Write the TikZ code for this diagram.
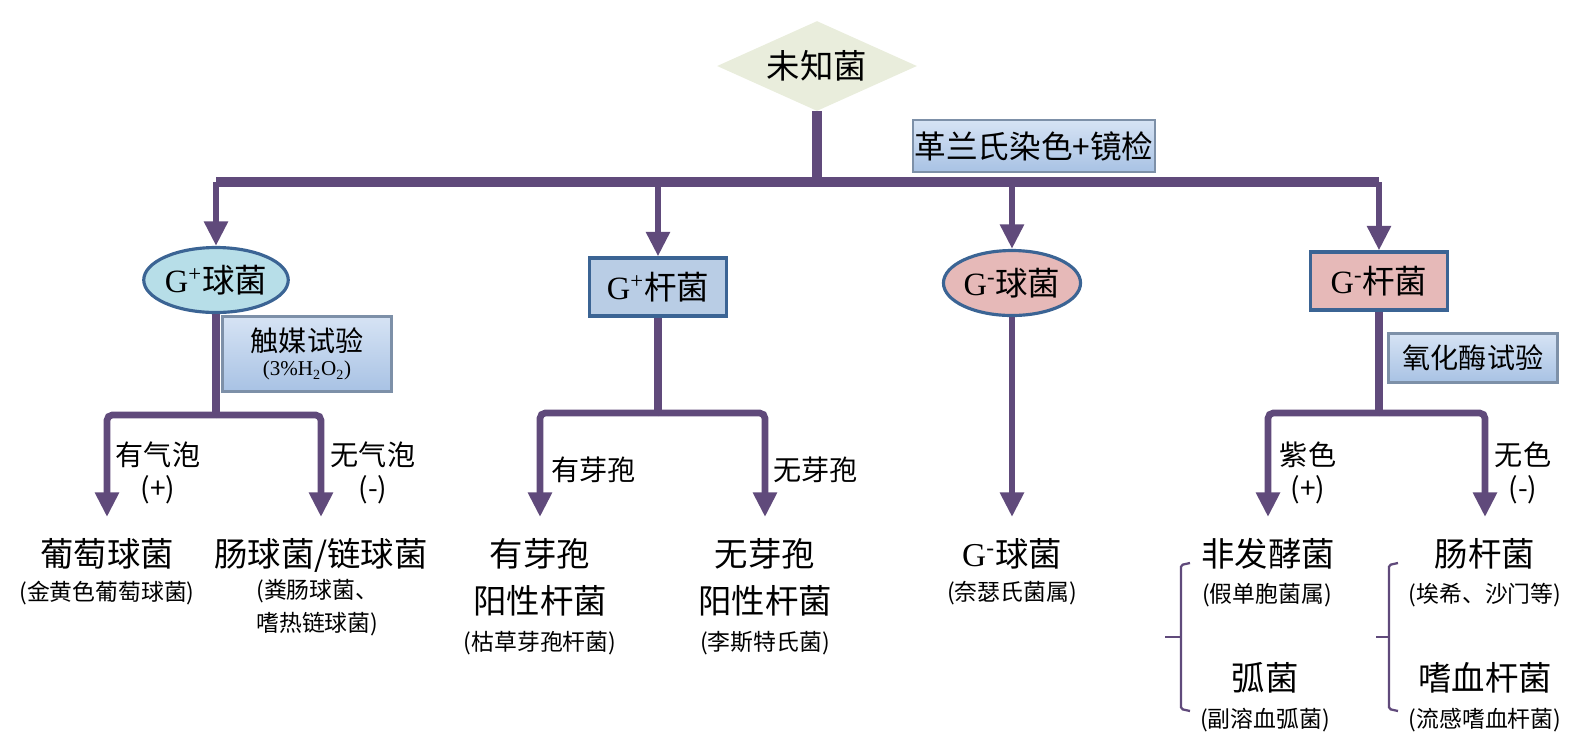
\documentclass[tikz,border=0pt]{standalone}
\usepackage{fontspec}
\setmainfont{Noto Sans CJK SC}
\newfontfamily\gfont{Liberation Serif}
\usepackage{tikz}
\usetikzlibrary{arrows.meta,shapes.geometric,positioning}

\definecolor{arrowpurple}{HTML}{604A7B}
\definecolor{startgreen}{HTML}{E9EDDC}
\definecolor{gpblue}{HTML}{B7DEE8}
\definecolor{rodblue}{HTML}{B9CDE5}
\definecolor{gnpink}{HTML}{E6B9B8}
\definecolor{edgeblue}{HTML}{3B6494}
\definecolor{testtop}{HTML}{D6E3F4}
\definecolor{testbottom}{HTML}{A8C2E4}
\definecolor{testedge}{HTML}{7D90A8}

\newcommand{\bigtext}{\fontsize{19pt}{27pt}\selectfont}
\newcommand{\midtext}{\fontsize{16pt}{19pt}\selectfont}
\newcommand{\smalltext}{\fontsize{13pt}{19pt}\selectfont}

\tikzset{
  start/.style={diamond, aspect=2.2, fill=startgreen, inner sep=0pt,
    minimum width=4cm, minimum height=1.8cm, font=\bigtext},
  coccus/.style={ellipse, draw=edgeblue, line width=1.8pt, inner sep=0pt,
    minimum width=2.72cm, minimum height=1.3cm, font=\fontsize{18.5pt}{22pt}\selectfont},
  rod/.style={rectangle, draw=edgeblue, line width=1.8pt, inner sep=0pt,
    minimum width=2.74cm, minimum height=1.16cm, font=\fontsize{18.5pt}{22pt}\selectfont},
  test/.style={rectangle, top color=testtop, bottom color=testbottom, draw=testedge,
    line width=1.4pt, inner sep=0pt, align=center},
  leaf/.style={font=\bigtext, align=center, inner xsep=0pt, inner ysep=12pt},
  note/.style={font=\smalltext, align=center, inner sep=0pt},
  label/.style={font=\midtext, align=center, inner sep=0pt},
  trunk/.style={draw=arrowpurple, line width=5.5pt},
  stem/.style={draw=arrowpurple, line width=4.2pt},
  flow/.style={draw=arrowpurple, line width=3.8pt, rounded corners=3pt,
    -{Triangle[length=14pt,width=13pt]}},
  bracket/.style={draw=arrowpurple, line width=1.3pt, rounded corners=1pt}
}

\begin{document}
\begin{tikzpicture}[x=0.02cm,y=-0.02cm]
  \useasboundingbox (0,0) rectangle (1596,752);

  % root and Gram stain
  \node[start] (unknown) at (817,66) {未知菌};
  \node[test, minimum width=4.84cm, minimum height=1.04cm, font=\fontsize{18pt}{20pt}\selectfont]
    (gram) at (1034,146) {革兰氏染色+镜检};

  \node[coccus, fill=gpblue] (gpc) at (216,280) {{\gfont G\textsuperscript{+}}球菌};
  \node[rod, fill=rodblue]   (gpr) at (658,287) {{\gfont G\textsuperscript{+}}杆菌};
  \node[coccus, fill=gnpink] (gnc) at (1012,283) {{\gfont G\textsuperscript{-}}球菌};
  \node[rod, fill=gnpink]    (gnr) at (1379,281) {{\gfont G\textsuperscript{-}}杆菌};

  \coordinate (split) at (817,182);
  \draw[trunk] (unknown) -- (split);
  \draw[trunk] (split -| gpc) -- (split -| gnr);
  \foreach \n in {gpc,gpr,gnc,gnr}
    \draw[flow] (split -| \n) -- (\n);

  % G+ cocci
  \node[test, minimum width=3.38cm, minimum height=1.5cm, font=\fontsize{16pt}{16pt}\selectfont]
    (catalase) at (307,354) {触媒试验\\[-2pt]{\gfont\fontsize{12pt}{14pt}\selectfont (3\%H\textsubscript{2}O\textsubscript{2})}};
  \node[leaf, anchor=north] (staph)  at (107,517) {葡萄球菌};
  \node[leaf, anchor=north] (entero) at (321,517) {肠球菌/链球菌};
  \node[note] (staphnote) at (107,593) {(金黄色葡萄球菌)};
  \node[note, align=left, anchor=north west] (enteronote) at (256,579) {(粪肠球菌、\\嗜热链球菌)};
  \node[label] (bubble)   at (158,473) {有气泡\\(+)};
  \node[label] (nobubble) at (373,473) {无气泡\\(-)};

  \coordinate (gpcsplit) at (216,415);
  \draw[stem] (gpc) -- (gpcsplit);
  \draw[flow] (gpcsplit) -| (staph);
  \draw[flow] (gpcsplit) -| (entero);

  % G+ rods
  \node[leaf, anchor=north] (bacillus) at (540,517) {有芽孢\\阳性杆菌};
  \node[leaf, anchor=north] (listeria) at (765,517) {无芽孢\\阳性杆菌};
  \node[note] (bacillusnote) at (540,643) {(枯草芽孢杆菌)};
  \node[note] (listerianote) at (765,643) {(李斯特氏菌)};
  \node[label, anchor=west] (spore)   at (551,470) {有芽孢};
  \node[label, anchor=west] (nospore) at (773,470) {无芽孢};

  \coordinate (gprsplit) at (658,413);
  \draw[stem] (gpr) -- (gprsplit);
  \draw[flow] (gprsplit) -| (bacillus);
  \draw[flow] (gprsplit) -| (listeria);

  % G- cocci
  \node[leaf, anchor=north] (neis) at (1012,517) {{\gfont G\textsuperscript{-}}球菌};
  \node[note] (neisnote) at (1012,593) {(奈瑟氏菌属)};
  \draw[flow] (gnc) -- (neis);

  % G- rods
  \node[test, minimum width=3.38cm, minimum height=0.98cm, font=\fontsize{16pt}{16pt}\selectfont]
    (oxidase) at (1473,358) {氧化酶试验};
  \node[leaf, anchor=north] (nonferm) at (1268,517) {非发酵菌};
  \node[leaf, anchor=north] (entbac)  at (1485,517) {肠杆菌};
  \node[note] (nonfermnote) at (1267,595) {(假单胞菌属)};
  \node[note] (entbacnote)  at (1485,595) {(埃希、沙门等)};
  \node[leaf] (vibrio) at (1265,678) {弧菌};
  \node[leaf] (haemo)  at (1485,678) {嗜血杆菌};
  \node[note] (vibrionote) at (1265,720) {(副溶血弧菌)};
  \node[note] (haemonote)  at (1485,720) {(流感嗜血杆菌)};
  \node[label] (purple)    at (1308,473) {紫色\\(+)};
  \node[label] (colorless) at (1523,473) {无色\\(-)};

  \coordinate (gnrsplit) at (1379,413);
  \draw[stem] (gnr) -- (gnrsplit);
  \draw[flow] (gnrsplit) -| (nonferm);
  \draw[flow] (gnrsplit) -| (entbac);

  % brackets
  \draw[bracket] (1190,563) -- (1181,565) -- (1181,709) -- (1190,711);
  \draw[bracket] (1181,637) -- (1165,637);
  \draw[bracket] (1398,563) -- (1389,565) -- (1389,709) -- (1398,711);
  \draw[bracket] (1389,637) -- (1376,637);
\end{tikzpicture}
\end{document}
